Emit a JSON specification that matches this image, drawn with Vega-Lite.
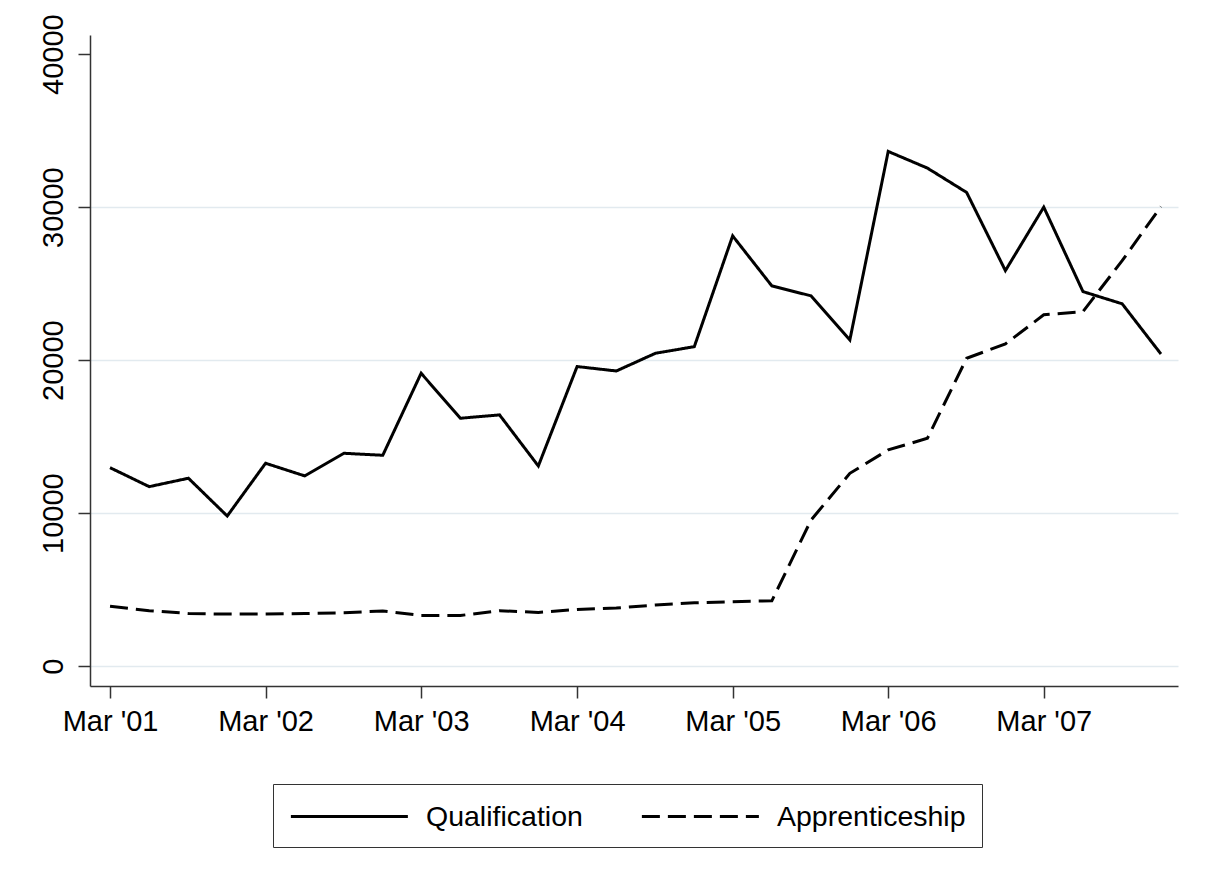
{
  "$schema": "https://vega.github.io/schema/vega-lite/v6.json",
  "width": 1088,
  "height": 651,
  "autosize": {"type": "none"},
  "padding": {"left": 90, "top": 35, "right": 30, "bottom": 193},
  "background": "white",
  "config": {"view": {"stroke": null}, "font": "Liberation Sans"},
  "data": {
    "values": [
      {"q": "2001-03-01", "Qualification": 12970, "Apprenticeship": 3920},
      {"q": "2001-06-01", "Qualification": 11730, "Apprenticeship": 3620},
      {"q": "2001-09-01", "Qualification": 12280, "Apprenticeship": 3440},
      {"q": "2001-12-01", "Qualification": 9810, "Apprenticeship": 3400},
      {"q": "2002-03-01", "Qualification": 13260, "Apprenticeship": 3400},
      {"q": "2002-06-01", "Qualification": 12430, "Apprenticeship": 3440},
      {"q": "2002-09-01", "Qualification": 13910, "Apprenticeship": 3490},
      {"q": "2002-12-01", "Qualification": 13780, "Apprenticeship": 3600},
      {"q": "2003-03-01", "Qualification": 19140, "Apprenticeship": 3310},
      {"q": "2003-06-01", "Qualification": 16200, "Apprenticeship": 3310},
      {"q": "2003-09-01", "Qualification": 16420, "Apprenticeship": 3620},
      {"q": "2003-12-01", "Qualification": 13080, "Apprenticeship": 3510},
      {"q": "2004-03-01", "Qualification": 19580, "Apprenticeship": 3700},
      {"q": "2004-06-01", "Qualification": 19290, "Apprenticeship": 3800},
      {"q": "2004-09-01", "Qualification": 20450, "Apprenticeship": 3990},
      {"q": "2004-12-01", "Qualification": 20880, "Apprenticeship": 4140},
      {"q": "2005-03-01", "Qualification": 28120, "Apprenticeship": 4210},
      {"q": "2005-06-01", "Qualification": 24850, "Apprenticeship": 4270},
      {"q": "2005-09-01", "Qualification": 24200, "Apprenticeship": 9550},
      {"q": "2005-12-01", "Qualification": 21320, "Apprenticeship": 12600},
      {"q": "2006-03-01", "Qualification": 33640, "Apprenticeship": 14130},
      {"q": "2006-06-01", "Qualification": 32550, "Apprenticeship": 14890},
      {"q": "2006-09-01", "Qualification": 30960, "Apprenticeship": 20120},
      {"q": "2006-12-01", "Qualification": 25850, "Apprenticeship": 21060},
      {"q": "2007-03-01", "Qualification": 30000, "Apprenticeship": 22960},
      {"q": "2007-06-01", "Qualification": 24480, "Apprenticeship": 23170},
      {"q": "2007-09-01", "Qualification": 23680, "Apprenticeship": 26500},
      {"q": "2007-12-01", "Qualification": 20400, "Apprenticeship": 30040}
    ]
  },
  "transform": [{"fold": ["Qualification", "Apprenticeship"], "as": ["series", "value"]}],
  "mark": {"type": "line", "color": "black", "strokeWidth": 3, "strokeJoin": "miter"},
  "encoding": {
    "x": {
      "field": "q",
      "type": "temporal",
      "scale": {
        "type": "utc",
        "domain": [
          {"year": 2001, "month": 1, "date": 13, "utc": true},
          {"year": 2008, "month": 1, "date": 10, "utc": true}
        ]
      },
      "axis": {
        "title": null,
        "grid": false,
        "values": [
          {"year": 2001, "month": 3, "date": 1, "utc": true},
          {"year": 2002, "month": 3, "date": 1, "utc": true},
          {"year": 2003, "month": 3, "date": 1, "utc": true},
          {"year": 2004, "month": 3, "date": 1, "utc": true},
          {"year": 2005, "month": 3, "date": 1, "utc": true},
          {"year": 2006, "month": 3, "date": 1, "utc": true},
          {"year": 2007, "month": 3, "date": 1, "utc": true}
        ],
        "format": "%b '%y",
        "tickSize": 12,
        "tickWidth": 1.5,
        "tickColor": "#333333",
        "domainColor": "#333333",
        "domainWidth": 1.5,
        "labelFontSize": 29,
        "labelColor": "black",
        "labelPadding": 9,
        "labelBaseline": "top",
        "labelFlush": false,
        "labelOverlap": false
      }
    },
    "y": {
      "field": "value",
      "type": "quantitative",
      "scale": {"domain": [-1300, 41250], "nice": false, "zero": false},
      "axis": {
        "title": null,
        "values": [0, 10000, 20000, 30000, 40000],
        "format": "d",
        "grid": true,
        "gridColor": "#e2eaef",
        "gridWidth": 1.5,
        "gridOpacity": {"condition": {"test": "datum.value === 40000", "value": 0}, "value": 1},
        "tickSize": 12,
        "tickWidth": 1.5,
        "tickColor": "#333333",
        "domainColor": "#333333",
        "domainWidth": 1.5,
        "labelAngle": -90,
        "labelAlign": "center",
        "labelBaseline": "alphabetic",
        "labelPadding": 16,
        "labelFontSize": 29,
        "labelColor": "black"
      }
    },
    "strokeDash": {
      "field": "series",
      "type": "nominal",
      "scale": {"domain": ["Qualification", "Apprenticeship"], "range": [[1, 0], [18, 8]]},
      "legend": {
        "title": null,
        "orient": "none",
        "legendX": 183,
        "legendY": 749,
        "direction": "horizontal",
        "symbolType": "M -1 0 L 7 0",
        "symbolSize": 855.6,
        "symbolStrokeWidth": 3,
        "symbolStrokeColor": "black",
        "labelFontSize": 28.5,
        "labelColor": "black",
        "labelOffset": 104,
        "columnPadding": 52,
        "padding": 16,
        "strokeColor": "#333333",
        "labelLimit": 400
      }
    }
  }
}
